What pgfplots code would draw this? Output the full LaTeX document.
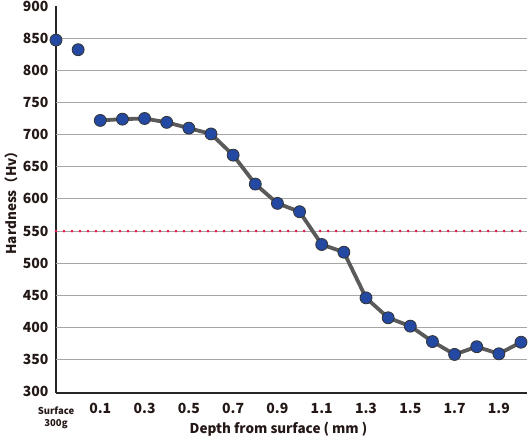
\documentclass[border=0pt]{standalone}
\usepackage{fontspec}
\setmainfont{Noto Sans CJK JP}
\usepackage{pgfplots}
\pgfplotsset{compat=1.18}

\definecolor{markblue}{HTML}{2449A3}
\definecolor{linegray}{HTML}{5A5A5A}
\definecolor{limitred}{HTML}{E5184E}
\definecolor{gridgray}{HTML}{A6A6A6}
\definecolor{textdark}{HTML}{231815}

\begin{document}
\begin{tikzpicture}[x=1pt,y=1pt]
\useasboundingbox (0,0) rectangle (530,437);
\begin{axis}[
    at={(56pt,44pt)}, anchor=south west,
    scale only axis,
    width=471pt, height=387pt,
    xmin=-0.1, xmax=2.027,
    ymin=298, ymax=900,
    axis x line=bottom, axis y line=left,
    axis line style={-, line width=2.2pt, black!85},
    xtick={0.1,0.3,0.5,0.7,0.9,1.1,1.3,1.5,1.7,1.9},
    xticklabels={0.1,0.3,0.5,0.7,0.9,1.1,1.3,1.5,1.7,1.9},
    extra x ticks={-0.1},
    extra x tick labels={Surface\\300g},
    extra x tick style={xticklabel style={font=\bfseries\fontsize{9.5}{12}\selectfont, align=center, yshift=-3pt}},
    ytick={300,350,...,900},
    extra y ticks={350,400,...,850},
    extra y tick labels={},
    extra y tick style={grid=major},
    major grid style={gridgray, line width=1pt},
    major tick length=0pt,
    tick label style={font=\bfseries\fontsize{14}{16}\selectfont, text=textdark},
    xticklabel style={yshift=-7pt},
    yticklabel style={xshift=-4pt, inner ysep=0pt},
    /pgf/number format/assume math mode=true,
    xlabel={Depth from surface ( mm )},
    xlabel style={font=\bfseries\fontsize{13.5}{15}\selectfont, text=textdark, yshift=13pt, xshift=-13pt},
    ylabel={Hardness（Hv）},
    ylabel style={font=\bfseries\fontsize{13.5}{15}\selectfont, text=textdark, yshift=-2pt},
    clip=false,
]
% red reference line at 550
\addplot[limitred, line width=3pt, line cap=round, dash pattern=on 0pt off 8pt, forget plot]
    coordinates {(-0.1,550)(2.027,550)};
% surface readings (no connecting line)
\addplot[only marks, mark=*, mark size=6pt,
    mark options={fill=markblue, draw=black!80, line width=0.8pt}]
    coordinates {(-0.1,847)(0.0,832)};
% hardness profile
\addplot[linegray, line width=3.8pt, mark=*, mark size=6pt,
    mark options={fill=markblue, draw=black!80, line width=0.8pt}]
    coordinates {
    (0.1,722)(0.2,724)(0.3,725)(0.4,719)(0.5,710)
    (0.6,701)(0.7,668)(0.8,623)(0.9,593)(1.0,580)
    (1.1,529)(1.2,517)(1.3,446)(1.4,415)(1.5,402)
    (1.6,378)(1.7,358)(1.8,370)(1.9,359)(2.0,377)
    };
\end{axis}
\end{tikzpicture}
\end{document}
